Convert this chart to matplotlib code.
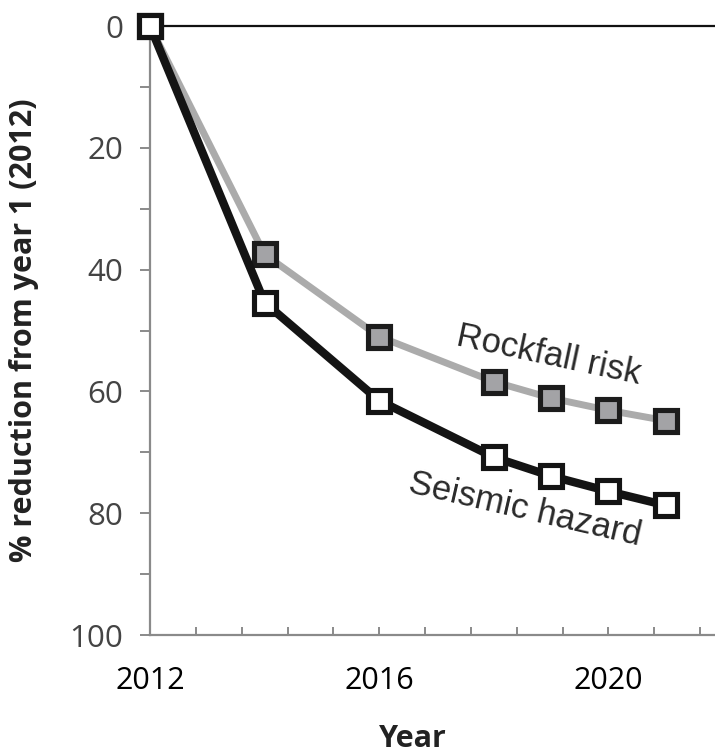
import matplotlib.pyplot as plt
from matplotlib.ticker import FixedLocator, MultipleLocator

# values
years = [2012, 2014, 2016, 2018, 2019, 2020, 2021]
rockfall = [0, 37.5, 51.0, 58.4, 61.1, 63.1, 64.8]
seismic = [0, 45.4, 61.5, 70.8, 73.9, 76.4, 78.7]

x_ticks = [2012, 2016, 2020]
y_ticks = [0, 20, 40, 60, 80, 100]
y_minor = [10, 30, 50, 70, 90]

tick_font = 'Open Sans'

fig = plt.figure(figsize=(7.15, 7.56), dpi=100)
ax = fig.add_axes([0.2098, 0.16, 0.7902, 0.8056])

ax.plot(years, rockfall, color='#ababab', lw=5, marker='s', ms=16.5,
        mfc='#a3a3a6', mec='#1c1c1c', mew=3.7, zorder=3, clip_on=False)
ax.plot(years, seismic, color='#141414', lw=6, marker='s', ms=16.5,
        mfc='white', mec='#141414', mew=3.7, zorder=4, clip_on=False)

ax.set_xlim(2012, 2021.86)
ax.set_ylim(100, 0)

# spines: top is the black zero line, left/bottom gray
for side in ['left', 'bottom']:
    ax.spines[side].set_color('#8a8a8a')
    ax.spines[side].set_linewidth(1.6)
ax.spines['right'].set_visible(False)
ax.spines['top'].set_color('#111111')
ax.spines['top'].set_linewidth(1.6)

ax.xaxis.set_major_locator(FixedLocator(x_ticks))
ax.xaxis.set_minor_locator(MultipleLocator(0.8))
ax.yaxis.set_major_locator(FixedLocator(y_ticks))
ax.yaxis.set_minor_locator(FixedLocator(y_minor))

ax.tick_params(axis='x', which='both', direction='in', length=6, width=1.4,
               color='#8a8a8a', top=False, pad=22)
ax.tick_params(axis='y', which='both', direction='out', length=7.5, width=1.4,
               color='#8a8a8a', right=False, pad=12)

for lab in ax.get_xticklabels():
    lab.set_fontfamily(tick_font)
    lab.set_fontsize(22)
    lab.set_color('#000000')
for lab in ax.get_yticklabels():
    lab.set_fontfamily(tick_font)
    lab.set_fontsize(22.5)
    lab.set_color('#444444')

ax.set_ylabel('% reduction from year 1 (2012)', fontfamily=tick_font,
              fontsize=22, fontweight='bold', color='#222222')
ax.yaxis.set_label_coords(-0.196, 0.5)
ax.set_xlabel('Year', fontfamily=tick_font, fontsize=22,
              fontweight='bold', color='#222222')
ax.xaxis.set_label_coords(0.4655, -0.146)

ax.text(2018.95, 54.0, 'Rockfall risk', rotation=-12, rotation_mode='anchor',
        ha='center', va='center', fontsize=25, color='#2a2a2a',
        fontfamily='Liberation Sans')
ax.text(2018.55, 79.4, 'Seismic hazard', rotation=-13, rotation_mode='anchor',
        ha='center', va='center', fontsize=25, color='#2a2a2a',
        fontfamily='Liberation Sans')

fig.savefig('out.png', dpi=100)
